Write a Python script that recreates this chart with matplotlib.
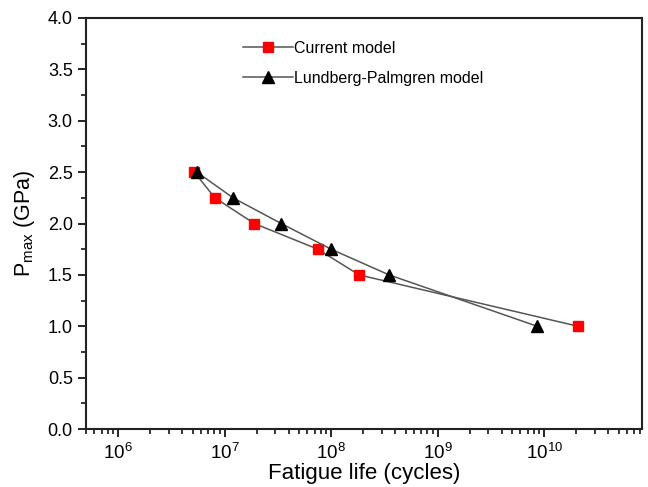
import numpy as np
import matplotlib.pyplot as plt
from matplotlib.ticker import MultipleLocator, LogLocator, NullFormatter

plt.rcParams['font.family'] = ['Liberation Sans', 'DejaVu Sans']
plt.rcParams['mathtext.fontset'] = 'custom'
plt.rcParams['mathtext.rm'] = 'Liberation Sans'

# data
p_max = [2.5, 2.25, 2.0, 1.75, 1.5, 1.0]
life_current = [5.2e6, 8.1e6, 1.9e7, 7.5e7, 1.83e8, 2.08e10]
life_lp = [5.5e6, 1.2e7, 3.4e7, 1.0e8, 3.5e8, 8.6e9]
labels = ['Current model', 'Lundberg-Palmgren model']

fig = plt.figure(figsize=(6.48, 4.87), dpi=100)
ax = fig.add_axes([86 / 648, 1 - 429 / 487, (642 - 86) / 648, (429 - 18) / 487])

ax.plot(life_current, p_max, '-s', color='#555555', lw=1.1,
        mfc='red', mec='red', ms=7, label=labels[0])
ax.plot(life_lp, p_max, '-^', color='#555555', lw=1.1,
        mfc='black', mec='black', ms=8, label=labels[1])

ax.set_xscale('log')
ax.set_xlim(5e5, 8.3e10)
ax.set_ylim(0, 4.0)
ax.yaxis.set_major_locator(MultipleLocator(0.5))
ax.yaxis.set_minor_locator(MultipleLocator(0.25))
ax.xaxis.set_major_locator(LogLocator(base=10, numticks=20))
ax.xaxis.set_minor_locator(LogLocator(base=10, subs=np.arange(2, 10), numticks=20))
ax.xaxis.set_minor_formatter(NullFormatter())

ax.tick_params(which='major', direction='out', length=6, width=1.2, labelsize=13)
ax.tick_params(which='minor', direction='out', length=3.5, width=1.1)
ax.tick_params(axis='x', which='major', pad=4, labelsize=13.5)
for s in ax.spines.values():
    s.set_linewidth(1.5)
    s.set_color('#222222')

ax.set_xlabel('Fatigue life (cycles)', fontsize=16, labelpad=0)
ax.set_ylabel(r'P$_{\mathregular{max}}$ (GPa)', fontsize=15.5, labelpad=8)

ax.legend(loc='upper left', bbox_to_anchor=(0.257, 0.98), frameon=False,
          fontsize=11.5, handlelength=3.1, labelspacing=0.95, handletextpad=0.1)

fig.savefig('out.png', dpi=100)
